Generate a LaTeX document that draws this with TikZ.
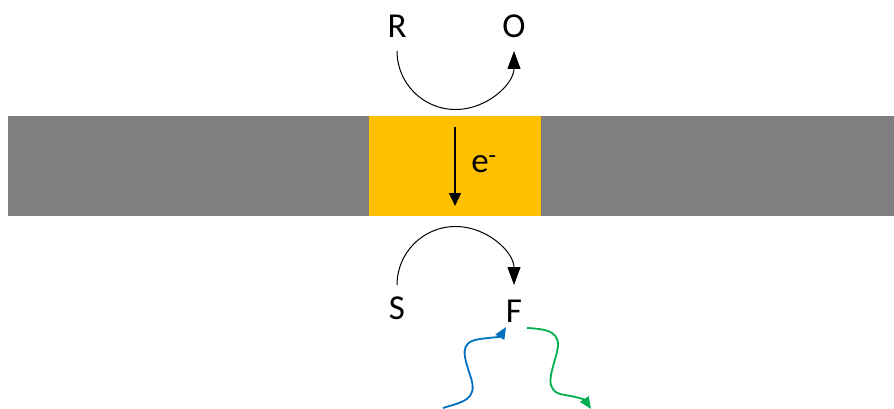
\documentclass[tikz,border=0pt]{standalone}
\usepackage{fontspec}
\setmainfont{Carlito}
\usetikzlibrary{arrows.meta}
\definecolor{bargray}{HTML}{7F7F7F}
\definecolor{gold}{HTML}{FFC000}
\definecolor{photonblue}{HTML}{0070C0}
\definecolor{photongreen}{HTML}{00B050}
\tikzset{
  lbl/.style={inner sep=0pt, font=\fontsize{35}{42}\selectfont},
  flow/.style={line width=1pt, -{Triangle[length=18pt,width=13pt]}},
  etransfer/.style={line width=1.2pt, -{Triangle[length=13pt,width=12pt]}},
  photon/.style={line width=1.8pt, -{Triangle[length=12pt,width=10pt]}},
}
\begin{document}
\begin{tikzpicture}[x=1pt,y=-1pt]
\useasboundingbox (0,0) rectangle (894,409);
% electrode bar with the active region
\fill[bargray] (8,116) rectangle (894,216);
\fill[gold] (369,116) rectangle (541,216);
% species
\node[lbl] (R) at (397,26) {R};
\node[lbl] (O) at (514,26) {O};
\node[lbl] (S) at (397,308) {S};
\node[lbl] (F) at (514,311) {F};
% oxidation above the bar (y axis points down, so 90 degrees is downwards)
\coordinate (r0) at (397,51);
\draw[flow] (r0) arc[start angle=180, end angle=0, radius=58.5];
% reaction below the bar
\coordinate (s0) at (397,285);
\draw[flow] (s0) arc[start angle=180, end angle=360, radius=58.5];
% electron transfer
\coordinate (e0) at (455,127);
\coordinate (e1) at (455,206);
\draw[etransfer] (e0) -- (e1);
\node[lbl] (e) at (484,164) {e\textsuperscript{-}};
% incoming and emitted light
\coordinate (b0) at (443,408);
\coordinate (b1) at (506,327);
\coordinate (g0) at (527,328);
\coordinate (g1) at (591,409);
\draw[photon, photonblue] (b0)
  .. controls (462,402) and (478,400) .. (471,378)
  .. controls (464,356) and (458,342) .. (480,339)
  .. controls (495,337) and (500,337) .. (b1);
\draw[photon, photongreen] (g0)
  .. controls (548,329) and (562,332) .. (557,352)
  .. controls (552,372) and (542,392) .. (565,395)
  .. controls (578,397) and (585,400) .. (g1);
\end{tikzpicture}
\end{document}
